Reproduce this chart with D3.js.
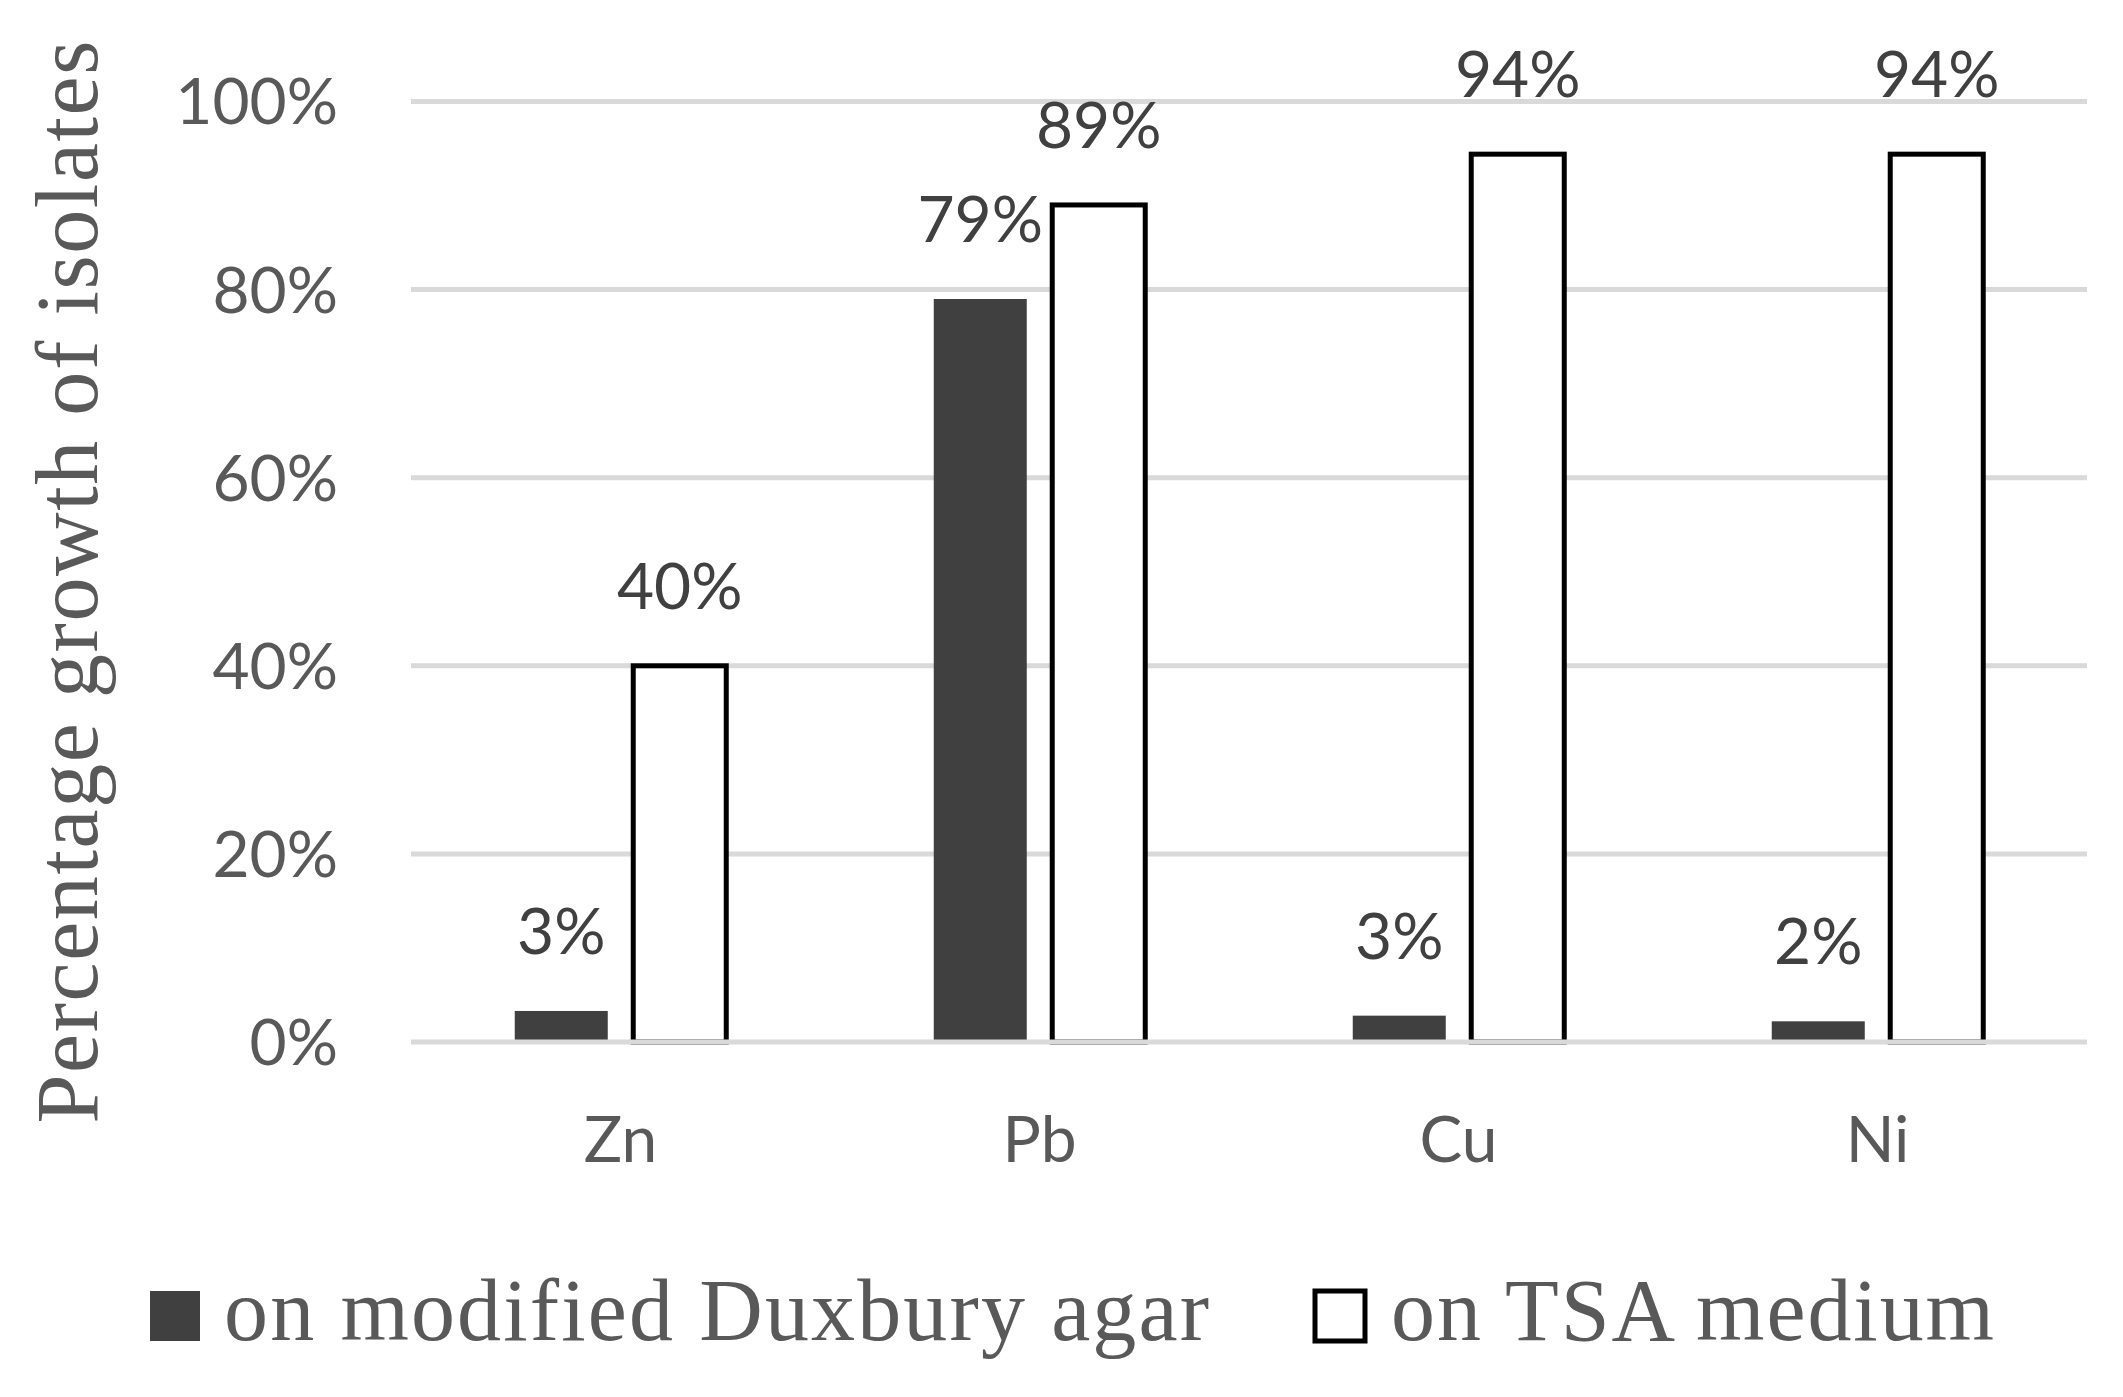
<!DOCTYPE html>
<html>
<head>
<meta charset="utf-8">
<script src="https://cdn.jsdelivr.net/npm/d3@7"></script>
<style>
  html, body { margin: 0; padding: 0; background: #fff; }
</style>
</head>
<body>
<div id="chart"></div>
<script>
// data
const metals = ["Zn", "Pb", "Cu", "Ni"]
const seriesNames = ["on modified Duxbury agar", "on TSA medium"]
const duxbury = [3.3, 79, 2.8, 2.2]
const tsa = [40, 89, 94.4, 94.4]
const yTicks = [0, 20, 40, 60, 80, 100]

const width = 2123
const height = 1397
const margin = {top: 101.5, right: 36, bottom: 355, left: 411}

const svg = d3.select("#chart")
  .append("svg")
  .attr("width", width)
  .attr("height", height)

const rows = metals.map((m, i) => ({metal: m, values: [duxbury[i], tsa[i]]}))

// scales
const x0 = d3.scaleBand()
  .domain(metals)
  .range([margin.left, width - margin.right])

const groupW = 211.5
const x1 = d3.scaleBand()
  .domain(seriesNames)
  .range([-groupW / 2, groupW / 2])
  .paddingInner(0.215)

const y = d3.scaleLinear()
  .domain([0, 100])
  .range([height - margin.bottom, margin.top])

// gridlines (not the zero line, that goes on top of the bars)
svg.append("g")
  .selectAll("line")
  .data(yTicks.filter(t => t > 0))
  .join("line")
    .attr("x1", margin.left)
    .attr("x2", width - margin.right)
    .attr("y1", d => y(d))
    .attr("y2", d => y(d))
    .attr("stroke", "#d9d9d9")
    .attr("stroke-width", 5)

// y axis labels
const yAxis = svg.append("g")
  .attr("transform", `translate(338,0)`)
  .call(d3.axisLeft(y).tickValues(yTicks).tickSize(0).tickPadding(0).tickFormat(d => d + "%"))
yAxis.select(".domain").remove()
yAxis.selectAll("text")
  .attr("x", 0)
  .attr("dy", "0.35em")
  .style("font-family", "Lato, 'Open Sans', sans-serif")
  .style("font-size", "64px")
  .attr("fill", "#595959")

// bars
const groups = svg.append("g")
  .selectAll("g")
  .data(rows)
  .join("g")
    .attr("transform", d => `translate(${x0(d.metal) + x0.bandwidth() / 2},0)`)

groups.selectAll("rect")
  .data(d => d.values.map((v, i) => ({key: seriesNames[i], value: v, i: i})))
  .join("rect")
    .attr("x", d => x1(d.key))
    .attr("y", d => y(d.value))
    .attr("width", x1.bandwidth())
    .attr("height", d => y(0) - y(d.value))
    .attr("fill", d => d.i === 0 ? "#404040" : "#ffffff")
    .attr("stroke", d => d.i === 0 ? "none" : "#000000")
    .attr("stroke-width", 5)

// data labels
groups.selectAll("text.lbl")
  .data(d => d.values.map((v, i) => ({key: seriesNames[i], value: v})))
  .join("text")
    .attr("class", "lbl")
    .attr("x", d => x1(d.key) + x1.bandwidth() / 2)
    .attr("y", d => y(d.value) - 57)
    .attr("text-anchor", "middle")
    .style("font-family", "Lato, 'Open Sans', sans-serif")
    .style("font-size", "64px")
    .attr("fill", "#404040")
    .text(d => Math.round(d.value) + "%")

// zero line
svg.append("line")
  .attr("x1", margin.left)
  .attr("x2", width - margin.right)
  .attr("y1", y(0))
  .attr("y2", y(0))
  .attr("stroke", "#d9d9d9")
  .attr("stroke-width", 5)

// category labels
svg.append("g")
  .selectAll("text")
  .data(metals)
  .join("text")
    .attr("x", d => x0(d) + x0.bandwidth() / 2)
    .attr("y", 1162)
    .attr("text-anchor", "middle")
    .style("font-family", "Lato, 'Open Sans', sans-serif")
    .style("font-size", "64px")
    .attr("fill", "#595959")
    .text(d => d)

// y title
svg.append("text")
  .attr("transform", "translate(97,582) rotate(-90)")
  .attr("text-anchor", "middle")
  .attr("textLength", 1083)
  .attr("lengthAdjust", "spacing")
  .style("font-family", "'Liberation Serif', 'DejaVu Serif', serif")
  .style("font-size", "88px")
  .attr("fill", "#595959")
  .text("Percentage growth of isolates")

// legend
const legendItems = [
  {name: seriesNames[0], sx: 150, tx: 224, tl: 985, fill: "#404040", stroke: "none"},
  {name: seriesNames[1], sx: 1315, tx: 1391, tl: 603, fill: "#ffffff", stroke: "#000000"}
]
const legend = svg.append("g")
legend.selectAll("rect")
  .data(legendItems)
  .join("rect")
    .attr("x", d => d.sx)
    .attr("y", 1291)
    .attr("width", 50)
    .attr("height", 50)
    .attr("fill", d => d.fill)
    .attr("stroke", d => d.stroke)
    .attr("stroke-width", 5)
legend.selectAll("text")
  .data(legendItems)
  .join("text")
    .attr("x", d => d.tx)
    .attr("y", 1340)
    .attr("textLength", d => d.tl)
    .attr("lengthAdjust", "spacing")
    .style("font-family", "'Liberation Serif', 'DejaVu Serif', serif")
    .style("font-size", "88px")
    .attr("fill", "#595959")
    .text(d => d.name)
</script>
</body>
</html>
